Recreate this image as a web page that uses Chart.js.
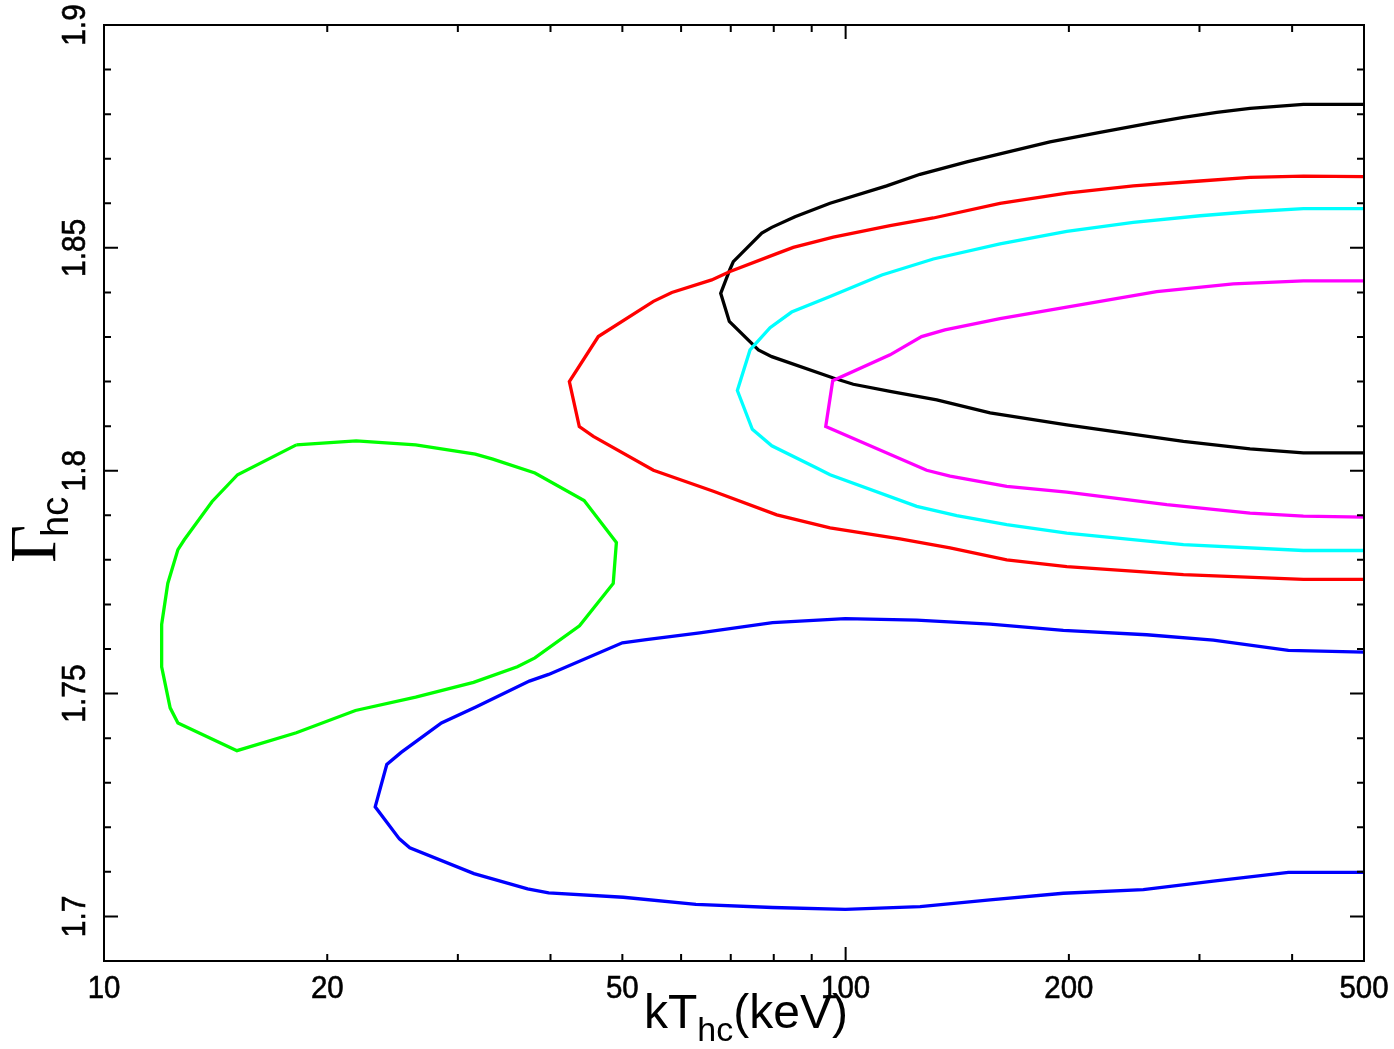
<!DOCTYPE html>
<html>
<head>
<meta charset="utf-8">
<script src="https://cdn.jsdelivr.net/npm/chart.js@4.4.1/dist/chart.umd.min.js"></script>
<style>
    html, body { margin: 0; padding: 0; background: #fff; }
    #wrap { width: 1394px; height: 1049px; }
</style>
</head>
<body>
<div id="wrap"><canvas id="contourChart" width="1394" height="1049"></canvas></div>
<script>
// ===========================
// Axis ticks
// ===========================

const xTickLabels = [10, 20, 50, 100, 200, 500];
const xMajorTicks = [10, 100];
const xMinorTicks = [20, 30, 40, 50, 60, 70, 80, 90, 200, 300, 400];
const yTickLabels = ['1.7', '1.75', '1.8', '1.85', '1.9'];
const yMajorTicks = [1.7, 1.75, 1.8, 1.85, 1.9];
const yMinorTicks = [1.71, 1.72, 1.73, 1.74, 1.76, 1.77, 1.78, 1.79,
                     1.81, 1.82, 1.83, 1.84, 1.86, 1.87, 1.88, 1.89];

// ===========================
// Contours (kT_hc in keV, Gamma_hc)
// ===========================

const blackX = [500, 414.2, 351, 316.6, 285.4, 257.3, 220.3, 188.6, 161.5, 145.7, 126, 113.6, 95.28, 85.45, 79.51, 77.08,
                70.56, 69.84, 67.85, 69.69, 76.27, 79.51, 96.25, 102.4, 114.8, 132.7, 156.6, 198.7, 285.4, 351, 414.2, 500];
const blackY = [1.8822, 1.8822, 1.8813, 1.8804, 1.8793, 1.878, 1.8759, 1.8738, 1.8711, 1.8693, 1.8665, 1.8639, 1.86, 1.857, 1.8546, 1.8533,
                1.8469, 1.8452, 1.8398, 1.8335, 1.8271, 1.8256, 1.8208, 1.8194, 1.8178, 1.8159, 1.813, 1.8103, 1.8066, 1.8049, 1.804, 1.804];

const redX = [500, 414.2, 351, 300.6, 244.3, 198.7, 161.5, 131.3, 114.8, 96.25, 85.0, 80.75, 69.84, 65.98, 58.3, 55.06,
              46.4, 42.41, 43.74, 45.69, 55.06, 66.32, 80.75, 95.28, 118.4, 138.3, 164.9, 198.7, 285.4, 414.2, 500];
const redY = [1.866, 1.8661, 1.8658, 1.865, 1.8639, 1.8623, 1.86, 1.8567, 1.855, 1.8524, 1.8501, 1.8487, 1.8447, 1.8428, 1.84, 1.838,
              1.8301, 1.82, 1.8099, 1.8077, 1.8001, 1.7954, 1.7901, 1.7872, 1.7847, 1.7827, 1.78, 1.7785, 1.7767, 1.7756, 1.7756];

const cyanX = [500, 414.2, 351, 300.6, 244.3, 198.7, 161.5, 131.3, 111.9, 95.28, 84.57, 79.09, 74.32,
               71.45, 74.85, 79.51, 91.42, 95.28, 124.7, 141.2, 164.9, 198.7, 285.4, 414.2, 500];
const cyanY = [1.8588, 1.8588, 1.8581, 1.8572, 1.8557, 1.8537, 1.8509, 1.8475, 1.8439, 1.8391, 1.8356, 1.8321, 1.8271,
               1.818, 1.8093, 1.8056, 1.8006, 1.7991, 1.792, 1.7899, 1.7879, 1.786, 1.7834, 1.7821, 1.7821];

const magentaX = [500, 414.2, 333.2, 262.7, 198.7, 161.5, 136.1, 126.6, 114.8, 96.07,
                  94.01, 128.6, 138.3, 164.9, 198.7, 271.0, 351, 414.2, 500];
const magentaY = [1.8426, 1.8426, 1.8419, 1.8402, 1.8367, 1.8341, 1.8316, 1.8301, 1.826, 1.8202,
                  1.8099, 1.8001, 1.7988, 1.7965, 1.7952, 1.7924, 1.7905, 1.7898, 1.7896];

const blueX = [500, 395.4, 313.2, 254.7, 196.6, 156.6, 124.7, 99.9, 79.7, 63.58, 53.86, 50, 39.77, 37.46, 31.73, 28.51, 25.16, 24.06,
               23.21, 25.02, 25.84, 31.54, 37.25, 39.77, 50.13, 62.83, 79.7, 99.9, 126.0, 156.6, 196.6, 252, 313.2, 395.4, 500];
const blueY = [1.7593, 1.7597, 1.762, 1.7632, 1.7642, 1.7656, 1.7665, 1.7668, 1.7659, 1.7636, 1.7621, 1.7614, 1.7543, 1.7528, 1.747, 1.7434, 1.7368, 1.7341,
               1.7246, 1.7174, 1.7154, 1.7096, 1.7062, 1.7053, 1.7043, 1.7027, 1.702, 1.7016, 1.7022, 1.7037, 1.7052, 1.706, 1.7079, 1.7099, 1.7099];

const greenX = [18.17, 21.88, 26.32, 31.67, 33.44, 38.11, 44.4, 49.08, 48.6, 43.77, 38.11, 36.09, 31.5, 26.32,
                21.83, 18.17, 15.11, 12.58, 12.28, 11.96, 11.96, 12.19, 12.58, 12.83, 13.99, 15.14, 18.17];
const greenY = [1.8058, 1.8067, 1.8058, 1.8037, 1.8026, 1.7995, 1.7933, 1.7839, 1.7747, 1.7652, 1.758, 1.756, 1.7525, 1.7492,
                1.7462, 1.7412, 1.7372, 1.7434, 1.7468, 1.756, 1.7655, 1.7747, 1.7823, 1.7845, 1.7931, 1.7991, 1.8058];

const SANS = '"Liberation Sans", Arial, Helvetica, sans-serif';
const SERIF = '"Liberation Serif", "Times New Roman", serif';

function toPoints(xs, ys) {
    return xs.map((x, i) => ({ x: x, y: ys[i] }));
}

function contour(xs, ys, color, order) {
    return {
        data: toPoints(xs, ys),
        borderColor: color,
        borderWidth: 3.3,
        showLine: true,
        fill: false,
        tension: 0,
        pointRadius: 0,
        order: order
    };
}

// text a bit narrower than the font, like the original plot
function narrowText(ctx, text, x, y, squeeze) {
    ctx.save();
    ctx.translate(x, y);
    ctx.scale(squeeze, 1);
    ctx.fillText(text, 0, 0);
    ctx.lineWidth = 0.6;
    ctx.strokeText(text, 0, 0);
    ctx.restore();
}

// ===========================
// Frame, ticks and labels
// ===========================

const framePlugin = {
    id: 'frame',
    afterDatasetsDraw(chart) {
        const { ctx, chartArea: a, scales } = chart;
        const xs = scales.x, ys = scales.y;
        ctx.save();
        ctx.strokeStyle = '#000';
        ctx.lineWidth = 2;
        ctx.beginPath();

        function xTick(v, len) {
            const px = xs.getPixelForValue(v);
            ctx.moveTo(px, a.bottom); ctx.lineTo(px, a.bottom - len);
            ctx.moveTo(px, a.top); ctx.lineTo(px, a.top + len);
        }
        function yTick(v, len) {
            const py = ys.getPixelForValue(v);
            ctx.moveTo(a.left, py); ctx.lineTo(a.left + len, py);
            ctx.moveTo(a.right, py); ctx.lineTo(a.right - len, py);
        }
        xMajorTicks.forEach(v => xTick(v, 14));
        xMinorTicks.forEach(v => xTick(v, 7));
        yMajorTicks.forEach(v => yTick(v, 14));
        yMinorTicks.forEach(v => yTick(v, 7));
        ctx.stroke();

        ctx.strokeRect(a.left, a.top, a.right - a.left, a.bottom - a.top);

        // tick labels
        ctx.fillStyle = '#000';
        ctx.textAlign = 'center';
        ctx.textBaseline = 'alphabetic';
        ctx.font = '32px ' + SANS;
        xTickLabels.forEach(v => {
            narrowText(ctx, String(v), xs.getPixelForValue(v), 998, 0.92);
        });
        ctx.font = '34px ' + SANS;
        yTickLabels.forEach(lbl => {
            ctx.save();
            ctx.translate(85, ys.getPixelForValue(parseFloat(lbl)));
            ctx.rotate(-Math.PI / 2);
            narrowText(ctx, lbl, 0, 0, 0.88);
            ctx.restore();
        });

        // x title: kT_hc(keV)
        ctx.textAlign = 'left';
        let cx = 644;
        ctx.font = '48px ' + SANS;
        ctx.fillText('kT', cx, 1028);
        cx += ctx.measureText('kT').width;
        ctx.font = '34px ' + SANS;
        ctx.fillText('hc', cx, 1041);
        cx += ctx.measureText('hc').width;
        ctx.font = '48px ' + SANS;
        ctx.fillText('(keV)', cx, 1028);

        // y title: Gamma_hc
        ctx.save();
        ctx.translate(55, 563);
        ctx.rotate(-Math.PI / 2);
        ctx.font = '66px ' + SERIF;
        ctx.fillText('\u0393', 0, 0);
        ctx.font = '38px ' + SANS;
        ctx.fillText('hc', 26, 13);
        ctx.restore();

        ctx.restore();
    }
};

// ===========================
// Chart
// ===========================

const ctx = document.getElementById('contourChart');

new Chart(ctx, {
    type: 'scatter',
    data: {
        datasets: [
            contour(blackX, blackY, '#000000', 6),
            contour(redX, redY, '#ff0000', 5),
            contour(cyanX, cyanY, '#00ffff', 4),
            contour(magentaX, magentaY, '#ff00ff', 3),
            contour(blueX, blueY, '#0000ff', 2),
            contour(greenX, greenY, '#00ff00', 1)
        ]
    },
    options: {
        responsive: false,
        animation: false,
        layout: {
            padding: { left: 104, right: 30, top: 25, bottom: 88 }
        },
        plugins: {
            legend: { display: false },
            tooltip: { enabled: false }
        },
        scales: {
            x: {
                type: 'logarithmic',
                min: 10,
                max: 500,
                display: false
            },
            y: {
                type: 'linear',
                min: 1.69,
                max: 1.9,
                display: false
            }
        }
    },
    plugins: [framePlugin]
});
</script>
</body>
</html>
